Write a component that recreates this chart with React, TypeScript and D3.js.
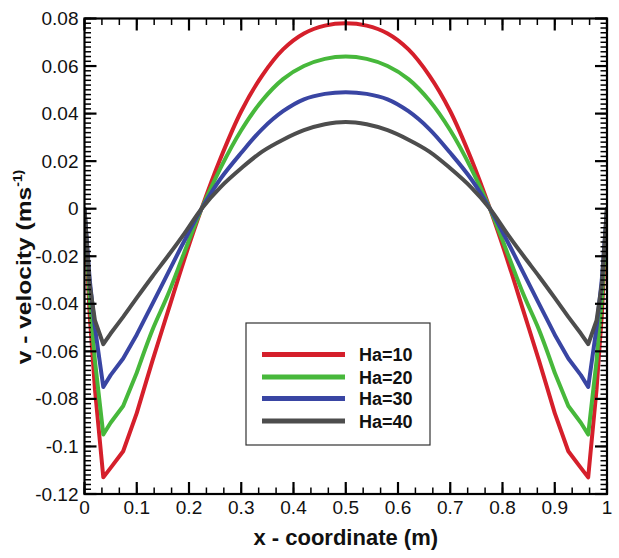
import * as d3 from 'd3';

// x positions (m) shared by all series
const xs = [
  0, 0.01, 0.02, 0.036, 0.05, 0.074, 0.1, 0.13, 0.16, 0.19, 0.224, 0.26, 0.3, 0.34, 0.38, 0.42, 0.46,
  0.5, 0.54, 0.58, 0.62, 0.66, 0.7, 0.74, 0.776, 0.81, 0.84, 0.87, 0.9, 0.926, 0.95, 0.964, 0.98, 0.99, 1
];

const ha10 = [
  0, -0.045, -0.076, -0.113, -0.109, -0.102, -0.086, -0.064, -0.043, -0.022, 0, 0.021, 0.041, 0.056, 0.067, 0.0737, 0.077,
  0.078, 0.077, 0.0737, 0.067, 0.056, 0.041, 0.021, 0, -0.022, -0.043, -0.064, -0.086, -0.102, -0.109, -0.113, -0.076, -0.045, 0
];
const ha20 = [
  0, -0.038, -0.064, -0.095, -0.09, -0.083, -0.069, -0.051, -0.036, -0.019, 0, 0.017, 0.033, 0.0455, 0.0545, 0.06, 0.063,
  0.064, 0.063, 0.06, 0.0545, 0.0455, 0.033, 0.017, 0, -0.019, -0.036, -0.051, -0.069, -0.083, -0.09, -0.095, -0.064, -0.038, 0
];
const ha30 = [
  0, -0.03, -0.05, -0.075, -0.07, -0.063, -0.053, -0.04, -0.027, -0.014, 0, 0.0125, 0.0235, 0.0335, 0.041, 0.046, 0.0483,
  0.049, 0.0483, 0.046, 0.041, 0.0335, 0.0235, 0.0125, 0, -0.014, -0.027, -0.04, -0.053, -0.063, -0.07, -0.075, -0.05, -0.03, 0
];
const ha40 = [
  0, -0.032, -0.047, -0.057, -0.0525, -0.0455, -0.0375, -0.0285, -0.0198, -0.0108, 0, 0.009, 0.017, 0.024, 0.029, 0.033, 0.0355,
  0.0365, 0.0355, 0.033, 0.029, 0.024, 0.017, 0.009, 0, -0.0108, -0.0198, -0.0285, -0.0375, -0.0455, -0.0525, -0.057, -0.047, -0.032, 0
];

const seriesNames = ['Ha=10', 'Ha=20', 'Ha=30', 'Ha=40'];
const seriesValues = [ha10, ha20, ha30, ha40];
const seriesColors = ['#d51f2b', '#47b83b', '#3945a3', '#4d4d4d'];

const xTicks = [0, 0.1, 0.2, 0.3, 0.4, 0.5, 0.6, 0.7, 0.8, 0.9, 1];
const xTickLabels = ['0', '0.1', '0.2', '0.3', '0.4', '0.5', '0.6', '0.7', '0.8', '0.9', '1'];
const yTicks = [0.08, 0.06, 0.04, 0.02, 0, -0.02, -0.04, -0.06, -0.08, -0.1, -0.12];
const yTickLabels = ['0.08', '0.06', '0.04', '0.02', '0', '-0.02', '-0.04', '-0.06', '-0.08', '-0.1', '-0.12'];

const W = 619;
const H = 558;
const left = 84.5;
const right = 607;
const top = 18.5;
const bottom = 494;

const font = '"Liberation Sans", Arial, sans-serif';

// near the walls the profile has sharp corners, so draw those parts straight
const EDGE_L = 6;
const EDGE_R = xs.length - 7;

export default function App() {
  const x = d3.scaleLinear().domain([0, 1]).range([left, right]);
  const y = d3.scaleLinear().domain([-0.12, 0.08]).range([bottom, top]);

  const straight = d3
    .line<[number, number]>()
    .x(d => x(d[0]))
    .y(d => y(d[1]));
  const smooth = d3
    .line<[number, number]>()
    .x(d => x(d[0]))
    .y(d => y(d[1]))
    .curve(d3.curveCatmullRom.alpha(0.5));

  const pathFor = (vals: number[]) => {
    const pts = xs.map((v, i) => [v, vals[i]] as [number, number]);
    return [
      straight(pts.slice(0, EDGE_L + 1)),
      smooth(pts.slice(EDGE_L, EDGE_R + 1)),
      straight(pts.slice(EDGE_R))
    ].join(' ');
  };

  const xMinor = d3.range(0, 1.0001, 0.1 / 3);
  const yMinor = d3.range(-0.12, 0.0801, 0.002);
  const major = 12;
  const minor = 6.5;

  const legendRows = [354.5, 377, 398.5, 421];

  return (
    <svg
      width={W}
      height={H}
      style={{ position: 'absolute', left: 0, top: 0, background: '#fff' }}
      fontFamily={font}
    >
      <rect width={W} height={H} fill="#fff" />
      <clipPath id="plot">
        <rect x={left} y={top - 4} width={right - left} height={bottom - top + 8} />
      </clipPath>
      <g clipPath="url(#plot)">
        {seriesValues.map((vals, i) => (
          <path
            key={seriesNames[i]}
            d={pathFor(vals)}
            fill="none"
            stroke={seriesColors[i]}
            strokeWidth={4}
            strokeLinejoin="round"
            strokeLinecap="round"
          />
        ))}
      </g>

      <g stroke="#000" strokeWidth={1.5}>
        {xMinor.map((t, i) => (
          <g key={'xm' + i}>
            <line x1={x(t)} x2={x(t)} y1={bottom} y2={bottom - minor} />
            <line x1={x(t)} x2={x(t)} y1={top} y2={top + minor} />
          </g>
        ))}
        {yMinor.map((t, i) => (
          <g key={'ym' + i}>
            <line x1={left} x2={left + minor} y1={y(t)} y2={y(t)} />
            <line x1={right} x2={right - minor} y1={y(t)} y2={y(t)} />
          </g>
        ))}
      </g>
      <g stroke="#000" strokeWidth={2.2}>
        {xTicks.map(t => (
          <g key={'xt' + t}>
            <line x1={x(t)} x2={x(t)} y1={bottom} y2={bottom - major} />
            <line x1={x(t)} x2={x(t)} y1={top} y2={top + major} />
          </g>
        ))}
        {yTicks.map(t => (
          <g key={'yt' + t}>
            <line x1={left} x2={left + major} y1={y(t)} y2={y(t)} />
            <line x1={right} x2={right - major} y1={y(t)} y2={y(t)} />
          </g>
        ))}
      </g>
      <rect
        x={left}
        y={top}
        width={right - left}
        height={bottom - top}
        fill="none"
        stroke="#000"
        strokeWidth={2.2}
      />

      <g fontSize={19} fill="#111">
        {xTicks.map((t, i) => (
          <text key={'xl' + t} x={x(t)} y={bottom + 20} textAnchor="middle">
            {xTickLabels[i]}
          </text>
        ))}
        {yTicks.map((t, i) => (
          <text key={'yl' + t} x={left - 6} y={y(t) + 6.5} textAnchor="end">
            {yTickLabels[i]}
          </text>
        ))}
      </g>

      <text x={(left + right) / 2} y={545} textAnchor="middle" fontSize={22} fontWeight="bold" fill="#111">
        x - coordinate (m)
      </text>
      <text
        transform="translate(31, 267) rotate(-90) scale(1.17, 1)"
        textAnchor="middle"
        fontSize={21}
        fontWeight="bold"
        fill="#111"
      >
        v - velocity (ms<tspan fontSize={12} dy={-9}>-1)</tspan>
      </text>

      <rect x={246} y={323} width={184} height={122} fill="#fff" stroke="#333" strokeWidth={1.2} />
      {seriesNames.map((name, i) => (
        <g key={'lg' + name}>
          <line
            x1={262}
            x2={345}
            y1={legendRows[i]}
            y2={legendRows[i]}
            stroke={seriesColors[i]}
            strokeWidth={5}
          />
          <text x={359} y={legendRows[i] + 6.5} fontSize={18} fontWeight="bold" fill="#111">
            {name}
          </text>
        </g>
      ))}
    </svg>
  );
}
